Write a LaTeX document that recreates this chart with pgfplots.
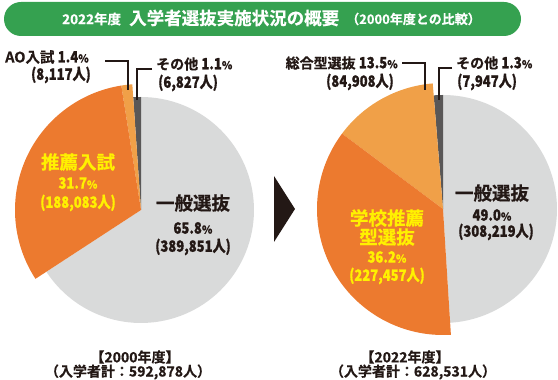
\documentclass[border=0pt]{standalone}
\usepackage{pgfplots}
\pgfplotsset{compat=1.18}
\usepackage{fontspec}
\setmainfont{Noto Sans CJK JP}[BoldFont={* Bold}, BoldFeatures={FakeBold=0.6}]
\newfontfamily\cn{Noto Sans CJK JP Bold}[FakeStretch=0.84, FakeBold=0.8]
\definecolor{lgray}{HTML}{D9DADA}
\definecolor{dkgray}{HTML}{595757}
\definecolor{orng}{HTML}{EC7A2F}
\definecolor{lorng}{HTML}{F0A048}
\definecolor{ylw}{HTML}{FFF100}
\definecolor{grn}{HTML}{35A150}
\definecolor{ink}{HTML}{231815}
% slice: start pct, pct, radius, colour
\newcommand{\slice}[4]{%
  \addplot[fill=#4, draw=none, no markers, domain={90+3.6*(#1)}:{90+3.6*(#1+#2)}, samples=90, variable=\t]
    ({#3*cos(\t)},{#3*sin(\t)}) -- (axis cs:0,0) -- cycle;}
\newcommand{\pc}{{\fontsize{11}{11}\selectfont\%}}
\newcommand{\num}[1]{{\cn\fontsize{15.5}{16}\selectfont #1}}
\begin{document}
\begin{tikzpicture}[x=1pt,y=1pt,font=\bfseries]
\path[use as bounding box] (0,0) rectangle (558,380);
% banner
\fill[grn, rounded corners=17pt] (4,344) rectangle (521,378);
\node[white,anchor=west,inner sep=0pt,font=\bfseries\fontsize{13.5}{14}\selectfont] at (62,361) {2022年度};
\node[white,anchor=west,inner sep=0pt,font=\bfseries\fontsize{17.5}{18}\selectfont] at (129,362) {入学者選抜実施状況の概要};
\node[white,anchor=west,inner sep=0pt,font=\bfseries\fontsize{13}{13}\selectfont] at (346,361) {（2000年度との比較）};
% left pie
\begin{axis}[at={(141pt,170pt)}, anchor=origin, x=1pt, y=1pt, xmin=-130, xmax=130, ymin=-130, ymax=130, hide axis, clip=false]
\slice{34.2}{65.8}{113}{lgray}
\slice{0}{1.1}{113}{dkgray}
\slice{1.1}{1.4}{126}{lorng}
\slice{2.5}{31.7}{126}{orng}
\end{axis}
% right pie
\begin{axis}[at={(443pt,171pt)}, anchor=origin, x=1pt, y=1pt, xmin=-130, xmax=130, ymin=-130, ymax=130, hide axis, clip=false]
\slice{51.0}{49.0}{114}{lgray}
\slice{0}{1.3}{114}{dkgray}
\slice{1.3}{13.5}{126}{lorng}
\slice{14.8}{36.2}{126}{orng}
\end{axis}
% arrow
\fill[ink] (274,204) -- (295,171) -- (274,138) -- cycle;
% leaders
\draw[ink,line width=1.1pt] (105,319) -- (128,319) -- (128,290);
\draw[ink,line width=1.1pt] (152,311) -- (137,311) -- (137,280);
\draw[ink,line width=1.1pt] (402,317) -- (425,317) -- (425,290);
\draw[ink,line width=1.1pt] (452,312) -- (439,312) -- (439,280);
\begin{scope}[every node/.style={font=\bfseries\fontsize{14}{14}\selectfont, text=ink, inner sep=0pt}]
% left labels
\node[anchor=east,font=\bfseries\fontsize{14.5}{15}\selectfont] at (89,323) {AO入試 \num{1.4}\pc};
\node[anchor=east] at (91,305) {\num{(8,117人)}};
\node[anchor=west] at (156,316) {その他 \num{1.1}\pc};
\node[anchor=west] at (158,297) {\num{(6,827人)}};
\node[text=ylw,font=\bfseries\fontsize{18.5}{19}\selectfont] at (78,218) {推薦入試};
\node[text=ylw] at (78,197) {\num{31.7}\pc};
\node[text=ylw] at (78,177) {\num{(188,083人)}};
\node[font=\bfseries\fontsize{18.5}{19}\selectfont] at (193,177) {一般選抜};
\node at (193,152) {\num{65.8}\pc};
\node at (193,133) {\num{(389,851人)}};
\node at (135,23) {【2000年度】};
\node at (128,8) {（入学者計：592,878人）};
% right labels
\node[anchor=east] at (398,317) {総合型選抜 \num{13.5}\pc};
\node[anchor=east] at (394,298) {\num{(84,908人)}};
\node[anchor=west] at (456,317) {その他 \num{1.3}\pc};
\node[anchor=west] at (457,298) {\num{(7,947人)}};
\node[font=\bfseries\fontsize{18.5}{19}\selectfont] at (492,187) {一般選抜};
\node at (492,165) {\num{49.0}\pc};
\node at (496,148) {\num{(308,219人)}};
\node[text=ylw,font=\bfseries\fontsize{18.5}{19}\selectfont] at (387,162) {学校推薦};
\node[text=ylw,font=\bfseries\fontsize{18.5}{19}\selectfont] at (387,143) {型選抜};
\node[text=ylw] at (387,123) {\num{36.2}\pc};
\node[text=ylw] at (387,104) {\num{(227,457人)}};
\node at (405,23) {【2022年度】};
\node at (413,8) {（入学者計：628,531人）};
\end{scope}
\end{tikzpicture}
\end{document}
